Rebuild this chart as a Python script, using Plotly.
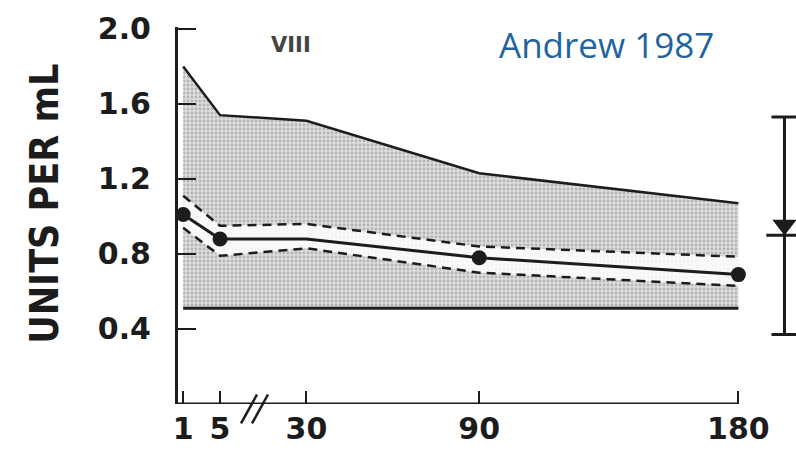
import plotly.graph_objects as go

# ---- data (days, units per mL) ----
days = [1, 5, 30, 90, 180]
upper_bound = [1.80, 1.54, 1.51, 1.23, 1.07]
lower_bound = [0.51, 0.51, 0.51, 0.51, 0.51]
mean_vals = [1.01, 0.88, 0.88, 0.78, 0.69]
dash_upper = [1.11, 0.95, 0.96, 0.84, 0.785]
dash_lower = [0.94, 0.79, 0.83, 0.70, 0.63]
mean_marker_days = [1, 5, 90, 180]
mean_marker_vals = [1.01, 0.88, 0.78, 0.69]
adult_mean = 0.955
adult_tick = 0.90
adult_high = 1.53
adult_low = 0.37
tick_days = [1, 5, 30, 90, 180]
tick_text = ["1", "5", "30", "90", "180"]
y_ticks = [0.4, 0.8, 1.2, 1.6, 2.0]
y_text = ["0.4", "0.8", "1.2", "1.6", "2.0"]


# broken time axis: linear from day 30 on, stretched before the break
def to_axis(d):
    return d if d >= 30 else (d - 5) * 3.2


X = [to_axis(d) for d in days]
XM = [to_axis(d) for d in mean_marker_days]
XT = [to_axis(d) for d in tick_days]
ADULT_X = 196
X_MIN, X_MAX = -14.6, 200

# pixel helpers for paper-positioned decorations
L, T, PW, PH = 178, 27, 618, 377.5


def px(xp):
    return (xp - L) / PW


def py(yp):
    return 1 - (yp - T) / PH


INK = "#1c1c1c"
fig = go.Figure()

# lower bound
fig.add_trace(go.Scatter(x=X, y=lower_bound, mode="lines",
                         line=dict(color=INK, width=3), hoverinfo="skip"))
# upper bound with stippled fill
fig.add_trace(go.Scatter(x=X, y=upper_bound, mode="lines", fill="tonexty",
                         fillcolor="#d0d0d0",
                         fillpattern=dict(shape=".", size=4, solidity=0.4,
                                          bgcolor="#dedede", fgcolor="#8a8a8a"),
                         line=dict(color=INK, width=2.5), hoverinfo="skip"))
# dashed band (white inside)
fig.add_trace(go.Scatter(x=X, y=dash_lower, mode="lines",
                         line=dict(color=INK, width=2.5, dash="9px,6px"), hoverinfo="skip"))
fig.add_trace(go.Scatter(x=X, y=dash_upper, mode="lines", fill="tonexty",
                         fillcolor="rgba(255,255,255,0.85)",
                         line=dict(color=INK, width=2.5, dash="9px,6px"), hoverinfo="skip"))
# mean line
fig.add_trace(go.Scatter(x=X, y=mean_vals, mode="lines",
                         line=dict(color=INK, width=3), hoverinfo="skip"))
fig.add_trace(go.Scatter(x=XM, y=mean_marker_vals, mode="markers",
                         marker=dict(color=INK, size=15), hoverinfo="skip"))
# adult reference with range bar
fig.add_trace(go.Scatter(x=[ADULT_X], y=[adult_mean], mode="markers",
                         marker=dict(symbol="triangle-down", size=21, color=INK),
                         error_y=dict(type="data", symmetric=False,
                                      array=[adult_high - adult_mean],
                                      arrayminus=[adult_mean - adult_low],
                                      color=INK, thickness=3, width=13),
                         hoverinfo="skip"))
fig.add_trace(go.Scatter(x=[ADULT_X], y=[adult_tick], mode="markers",
                         marker=dict(symbol="line-ew", size=26,
                                     line=dict(color=INK, width=3)),
                         hoverinfo="skip"))

# x axis line (ends at day 180) and break marks
fig.add_shape(type="line", xref="x", yref="y", x0=X_MIN, x1=to_axis(180),
              y0=0, y1=0, line=dict(color=INK, width=3))
for off in (0, 11):
    fig.add_shape(type="line", xref="paper", yref="paper",
                  x0=px(241 + off), x1=px(257 + off), y0=py(424), y1=py(395),
                  line=dict(color=INK, width=2.5))

tick_font = dict(family="DejaVu Sans", size=30, color=INK, weight="bold")
fig.update_layout(
    width=796, height=454,
    margin=dict(l=178, r=0, t=27, b=50),
    paper_bgcolor="white", plot_bgcolor="white",
    showlegend=False,
    xaxis=dict(range=[X_MIN, X_MAX], tickmode="array", tickvals=XT, ticktext=tick_text,
               ticks="inside", ticklen=13, tickwidth=2, tickcolor=INK,
               showline=False, showgrid=False, zeroline=False,
               tickfont=tick_font, ticklabelstandoff=4),
    yaxis=dict(range=[0, 2.01], tickmode="array", tickvals=y_ticks, ticktext=y_text,
               ticks="inside", ticklen=18, tickwidth=2, tickcolor=INK,
               showline=True, linecolor=INK, linewidth=3,
               showgrid=False, zeroline=False,
               tickfont=tick_font, ticklabelstandoff=18),
    annotations=[
        dict(text="UNITS PER mL", xref="paper", yref="paper",
             x=px(45), y=py(204), textangle=-90, showarrow=False,
             xanchor="center", yanchor="middle",
             font=dict(family="DejaVu Sans Condensed, DejaVu Sans, sans-serif",
                       size=39, color=INK, weight="bold")),
        dict(text="VIII", xref="paper", yref="paper", x=px(291), y=py(45),
             showarrow=False, xanchor="center", yanchor="middle",
             font=dict(family="DejaVu Sans", size=21, color="#444444", weight="bold")),
        dict(text="Andrew 1987", xref="paper", yref="paper",
             x=px(606), y=py(45), showarrow=False,
             xanchor="center", yanchor="middle",
             font=dict(family="Open Sans", size=35, color="#1f64a0")),
    ],
)

fig.write_html("out.html")
